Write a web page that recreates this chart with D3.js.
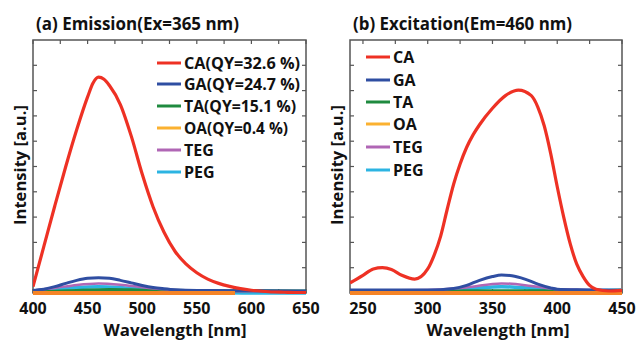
<!DOCTYPE html>
<html><head><meta charset="utf-8">
<script src="https://cdn.jsdelivr.net/npm/d3@7"></script>
<style>body{margin:0;background:#fff}svg{display:block}text{font-family:"Open Sans",Lato,sans-serif;font-weight:bold;fill:#111}</style>
</head><body>
<script>
// ---- Data ----
const seriesNames = ["CA","GA","TA","OA","TEG","PEG"];
const emLegend = ["CA(QY=32.6 %)","GA(QY=24.7 %)","TA(QY=15.1 %)","OA(QY=0.4 %)","TEG","PEG"];
const exLegend = ["CA","GA","TA","OA","TEG","PEG"];
const emTicks = [400,450,500,550,600,650];
const exTicks = [250,300,350,400,450];

// Emission (Ex=365 nm)
const emCA_x = [400,410,420,430,440,450,455,460,465,470,480,490,500,510,520,530,540,550,560,570,580,590,600,610,620,630,640,650];
const emCA_y = [0.25,1.85,3.45,5.0,6.45,7.75,8.3,8.53,8.45,8.2,7.45,6.2,4.7,3.4,2.4,1.65,1.15,0.8,0.55,0.38,0.26,0.17,0.11,0.07,0.04,0.03,0.02,0.02];
const emGA_x = [400,410,420,430,440,450,460,470,480,490,500,510,520,530,540,560,600,650];
const emGA_y = [0.1,0.15,0.25,0.38,0.5,0.58,0.6,0.58,0.5,0.4,0.3,0.22,0.17,0.13,0.11,0.1,0.09,0.08];
const emTA_x = [400,420,440,470,500,540,600,650];
const emTA_y = [0.05,0.07,0.1,0.14,0.12,0.1,0.09,0.08];
const emOA_x = [400,450,500,550,585];
const emOA_y = [0.0,0.0,0.0,0.0,0.0];
const emTEG_x = [400,420,440,460,480,500,520,540,560,600,650];
const emTEG_y = [0.1,0.2,0.32,0.38,0.33,0.23,0.15,0.1,0.08,0.07,0.06];
const emPEG_x = [400,420,440,460,480,500,520,540,560,580,600,650];
const emPEG_y = [0.08,0.15,0.22,0.25,0.22,0.15,0.1,0.06,0.03,0.01,0.0,0.0];

// Excitation (Em=460 nm)
const exCA_x = [240,250,258,265,272,280,290,300,305,310,315,320,325,330,335,340,350,360,370,380,385,390,395,400,405,410,415,420,425,430,440,450];
const exCA_y = [0.4,0.7,0.95,1.0,0.93,0.7,0.55,0.95,1.5,2.25,3.3,4.3,5.1,5.75,6.25,6.65,7.3,7.8,8.02,7.8,7.35,6.6,5.5,4.2,3.0,1.95,1.15,0.65,0.3,0.15,0.08,0.1];
const exGA_x = [240,280,300,320,330,340,350,357,365,375,385,395,400,420,450];
const exGA_y = [0.12,0.12,0.12,0.18,0.3,0.5,0.65,0.71,0.68,0.55,0.35,0.2,0.15,0.12,0.1];
const exTA_x = [240,300,350,400,450];
const exTA_y = [0.08,0.08,0.09,0.09,0.11];
const exOA_x = [240,300,350,400,450];
const exOA_y = [0.0,0.0,0.0,0.0,0.0];
const exTEG_x = [240,300,330,357,380,400,450];
const exTEG_y = [0.1,0.12,0.22,0.38,0.28,0.15,0.12];
const exPEG_x = [240,300,330,357,380,400,450];
const exPEG_y = [0.08,0.08,0.15,0.25,0.18,0.1,0.12];

const lineColors = {CA:"#ee3124",GA:"#2f4ea2",TA:"#1f8a3f",OA:"#f58426",TEG:"#b066b5",PEG:"#2cb4e2"};
const legendColors = {CA:"#ee3124",GA:"#2f4ea2",TA:"#1f8a3f",OA:"#fbb130",TEG:"#b066b5",PEG:"#2cb4e2"};
const widths = {CA:3.2,GA:3,TA:3,OA:4,TEG:2.5,PEG:3.5};

const W=636,H=343;
const svg=d3.select("body").append("svg").attr("width",W).attr("height",H);

const panels=[
 {x0:33,x1:306,domain:[400,650],ticks:emTicks,minor:d3.range(400,651,25),
  title:"(a) Emission(Ex=365 nm)",titleX:36,titleW:203,xTitleX:175,
  legend:emLegend,legX:157,legRows:[63,84,106,128,150,172],legW:[116,116,112,104,0,0],
  data:{CA:[emCA_x,emCA_y],GA:[emGA_x,emGA_y],TA:[emTA_x,emTA_y],OA:[emOA_x,emOA_y],TEG:[emTEG_x,emTEG_y],PEG:[emPEG_x,emPEG_y]}},
 {x0:350,x1:622,domain:[240,450],ticks:exTicks,minor:d3.range(250,451,25),
  title:"(b) Excitation(Em=460 nm)",titleX:353,titleW:219,xTitleX:498,
  legend:exLegend,legX:366,legRows:[57,80,102,124,147,170],legW:[0,0,0,0,0,0],
  data:{CA:[exCA_x,exCA_y],GA:[exGA_x,exGA_y],TA:[exTA_x,exTA_y],OA:[exOA_x,exOA_y],TEG:[exTEG_x,exTEG_y],PEG:[exPEG_x,exPEG_y]}}
];
const yTop=40,yBot=293;
const y=d3.scaleLinear().domain([0,10]).range([yBot,yTop]);
const drawOrder=["PEG","TA","TEG","GA","OA","CA"];

panels.forEach(p=>{
  const x=d3.scaleLinear().domain(p.domain).range([p.x0,p.x1]);
  const g=svg.append("g");
  const clipId="clip"+p.x0;
  svg.append("clipPath").attr("id",clipId).append("rect").attr("x",p.x0).attr("y",yTop-2).attr("width",p.x1-p.x0).attr("height",yBot-yTop+6);
  g.append("rect").attr("x",p.x0).attr("y",yTop).attr("width",p.x1-p.x0).attr("height",yBot-yTop)
   .attr("fill","none").attr("stroke","#555").attr("stroke-width",1.5);
  const tl=4;
  g.selectAll(".xtb").data(p.minor).enter().append("line")
   .attr("x1",d=>x(d)).attr("x2",d=>x(d)).attr("y1",yBot).attr("y2",yBot-tl).attr("stroke","#555").attr("stroke-width",1.2);
  g.selectAll(".xtt").data(p.minor).enter().append("line")
   .attr("x1",d=>x(d)).attr("x2",d=>x(d)).attr("y1",yTop).attr("y2",yTop+tl).attr("stroke","#555").attr("stroke-width",1.2);
  const yt=d3.range(1,10);
  g.selectAll(".ytl").data(yt).enter().append("line")
   .attr("x1",p.x0).attr("x2",p.x0+tl).attr("y1",d=>y(d)).attr("y2",d=>y(d)).attr("stroke","#555").attr("stroke-width",1.2);
  g.selectAll(".ytr").data(yt).enter().append("line")
   .attr("x1",p.x1).attr("x2",p.x1-tl).attr("y1",d=>y(d)).attr("y2",d=>y(d)).attr("stroke","#555").attr("stroke-width",1.2);
  g.selectAll(".xl").data(p.ticks).enter().append("text")
   .attr("x",d=>x(d)).attr("y",314).attr("text-anchor","middle").attr("font-size",16).text(d=>d);
  const line=d3.line().x(d=>x(d[0])).y(d=>y(d[1])).curve(d3.curveMonotoneX);
  const lg=g.append("g").attr("clip-path",`url(#${clipId})`);
  drawOrder.forEach(k=>{
    const [xs,ys]=p.data[k];
    lg.append("path").datum(xs.map((v,i)=>[v,ys[i]])).attr("d",line)
      .attr("fill","none").attr("stroke",lineColors[k]).attr("stroke-width",widths[k]).attr("stroke-linejoin","round");
  });
  svg.append("text").attr("x",p.titleX).attr("y",30).attr("font-size",17)
     .attr("textLength",p.titleW).attr("lengthAdjust","spacingAndGlyphs").text(p.title);
  svg.append("text").attr("x",p.xTitleX).attr("y",336).attr("text-anchor","middle").attr("font-size",16)
     .attr("textLength",143).attr("lengthAdjust","spacingAndGlyphs").text("Wavelength [nm]");
  svg.append("text").attr("transform",`translate(${p.x0-7},165) rotate(-90)`).attr("text-anchor","middle").attr("font-size",16)
     .attr("textLength",120).attr("lengthAdjust","spacingAndGlyphs").text("Intensity [a.u.]");
  seriesNames.forEach((k,i)=>{
    const yy=p.legRows[i];
    svg.append("line").attr("x1",p.legX).attr("x2",p.legX+24).attr("y1",yy).attr("y2",yy)
      .attr("stroke",legendColors[k]).attr("stroke-width",3);
    const t=svg.append("text").attr("x",p.legX+27).attr("y",yy+6).attr("font-size",16).text(p.legend[i]);
    if(p.legW[i]) t.attr("textLength",p.legW[i]).attr("lengthAdjust","spacingAndGlyphs");
  });
});
</script>
</body></html>
